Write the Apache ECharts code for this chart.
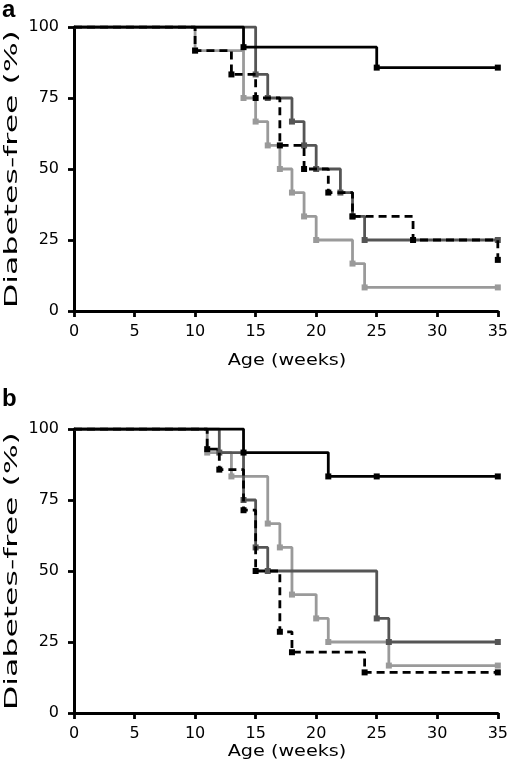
<!DOCTYPE html>
<html>
<head>
<meta charset="utf-8">
<script src="https://cdn.jsdelivr.net/npm/echarts@6/dist/echarts.min.js"></script>
<style>html,body{margin:0;padding:0;background:#fff;}#c{width:511px;height:774px;}</style>
</head>
<body>
<div id="c"></div>
<script>
// Tick labels
const xTicks = [0, 5, 10, 15, 20, 25, 30, 35];
const yTicks = [0, 25, 50, 75, 100];
const xTitle = 'Age (weeks)';
const yTitle = 'Diabetes-free (%)';
// Panel a (weeks, % diabetes-free)
const aBlackT = [0, 14, 25, 35];
const aBlackS = [100, 92.9, 85.7, 85.7];
const aDashT = [0, 10, 13, 15, 17, 19, 21, 23, 28, 35];
const aDashS = [100, 91.7, 83.3, 75, 58.3, 50, 41.7, 33.3, 25, 18];
const aDarkT = [0, 15, 16, 18, 19, 20, 22, 23, 24, 35];
const aDarkS = [100, 83.3, 75, 66.7, 58.3, 50, 41.7, 33.3, 25, 25];
const aLightT = [0, 10, 14, 15, 16, 17, 18, 19, 20, 23, 24, 35];
const aLightS = [100, 91.7, 75, 66.7, 58.3, 50, 41.7, 33.3, 25, 16.7, 8.3, 8.3];
// Panel b
const bBlackT = [0, 14, 21, 25, 35];
const bBlackS = [100, 91.7, 83.3, 83.3, 83.3];
const bDashT = [0, 11, 12, 14, 15, 17, 18, 24, 35];
const bDashS = [100, 92.9, 85.7, 71.4, 50, 28.6, 21.4, 14.3, 14.3];
const bDarkT = [0, 12, 14, 15, 16, 25, 26, 35];
const bDarkS = [100, 91.7, 75, 58.3, 50, 33.3, 25, 25];
const bLightT = [0, 11, 13, 16, 17, 18, 20, 21, 26, 35];
const bLightS = [100, 91.7, 83.3, 66.7, 58.3, 41.7, 33.3, 25, 16.7, 16.7];

const FONT = '"DejaVu Sans", Verdana, sans-serif';
const BOLD = 'Liberation Sans, Arial, sans-serif';
const BLACK = '#000000', DARK = '#555555', LIGHT = '#9a9a9a';

function pts(T, S) {
  return T.map((t, i) => i === 0 ? { value: [t, S[i]], symbol: 'none' } : [t, S[i]]);
}
function km(T, S, color, dashed, idx) {
  return {
    type: 'line', step: 'end', xAxisIndex: idx, yAxisIndex: idx,
    data: pts(T, S), symbol: 'rect', symbolSize: 6, showSymbol: true,
    itemStyle: { color: color },
    lineStyle: { color: color, width: 2.8, type: dashed ? [8, 5] : 'solid' },
    animation: false, z: dashed ? 3 : 2
  };
}
const axisCommon = {
  axisLine: { show: true, onZero: false, lineStyle: { color: '#000', width: 3 } },
  axisTick: { show: true, inside: false, length: 6, lineStyle: { color: '#000', width: 2.8 } },
  splitLine: { show: false },
  axisLabel: { color: '#000', fontSize: 16, fontFamily: FONT }
};
function xAx(idx) {
  return Object.assign({}, axisCommon, {
    type: 'value', gridIndex: idx, min: xTicks[0], max: xTicks[xTicks.length - 1], interval: 5,
    axisLabel: Object.assign({}, axisCommon.axisLabel, { margin: 13 })
  });
}
function yAx(idx) {
  return Object.assign({}, axisCommon, {
    type: 'value', gridIndex: idx, min: yTicks[0], max: yTicks[yTicks.length - 1], interval: 25,
    axisLabel: Object.assign({}, axisCommon.axisLabel, { margin: 15 })
  });
}
function xName(cy) {
  return { type: 'text', x: 287, y: cy, scaleX: 1.2, scaleY: 1, z: 10,
    style: { text: xTitle, font: '16px ' + FONT, fill: '#000', textAlign: 'center', textVerticalAlign: 'middle' } };
}
function yName(cy) {
  return { type: 'text', x: 12, y: cy, rotation: Math.PI / 2, scaleX: 1.75, scaleY: 1, z: 10,
    style: { text: yTitle, font: '18px ' + FONT, fill: '#000', textAlign: 'center', textVerticalAlign: 'middle' } };
}
const chart = echarts.init(document.getElementById('c'), null, { renderer: 'canvas' });
chart.setOption({
  backgroundColor: '#ffffff',
  animation: false,
  grid: [
    { left: 74, right: 11, top: 27, height: 284 },
    { left: 74, right: 11, top: 429, height: 284 }
  ],
  xAxis: [xAx(0), xAx(1)],
  yAxis: [yAx(0), yAx(1)],
  graphic: [
    { type: 'text', left: 2, top: -2, style: { text: 'a', font: 'bold 24px ' + BOLD, fill: '#000' } },
    { type: 'text', left: 2, top: 387, style: { text: 'b', font: 'bold 24px ' + BOLD, fill: '#000' } },
    xName(361), xName(752), yName(169), yName(571)
  ],
  series: [
    km(aLightT, aLightS, LIGHT, false, 0),
    km(aDarkT, aDarkS, DARK, false, 0),
    km(aDashT, aDashS, BLACK, true, 0),
    km(aBlackT, aBlackS, BLACK, false, 0),
    km(bLightT, bLightS, LIGHT, false, 1),
    km(bDarkT, bDarkS, DARK, false, 1),
    km(bDashT, bDashS, BLACK, true, 1),
    km(bBlackT, bBlackS, BLACK, false, 1)
  ]
});
</script>
</body>
</html>
